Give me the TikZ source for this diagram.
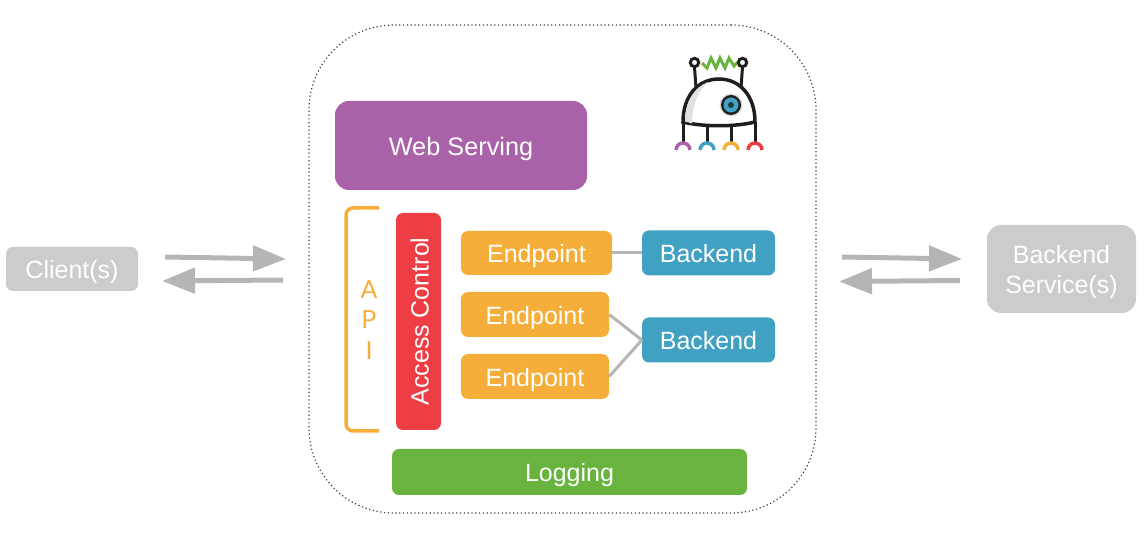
\documentclass[tikz,border=0pt]{standalone}
\usepackage{fontspec}
\setmainfont{Liberation Sans}
\newfontfamily\apifont{Lato}
\usetikzlibrary{arrows.meta, positioning}
\definecolor{webpurple}{HTML}{A961A8}
\definecolor{accessred}{HTML}{EE3E45}
\definecolor{endpointorange}{HTML}{F6AE3A}
\definecolor{backendblue}{HTML}{40A1C2}
\definecolor{loggreen}{HTML}{68B43F}
\definecolor{outsidegray}{HTML}{CCCCCC}
\definecolor{arrowgray}{HTML}{B5B5B5}
\definecolor{logodark}{HTML}{1E1E1E}
\tikzstyle{box} = [draw=none, rounded corners=7pt, text=white, inner sep=0pt, text height=22pt, text depth=2pt, font=\fontsize{25}{30}\selectfont]
\tikzstyle{endpoint} = [box, fill=endpointorange, minimum width=148pt, minimum height=45pt]
\tikzstyle{backend} = [box, fill=backendblue, minimum width=133pt, minimum height=45pt]
\tikzstyle{outside} = [box, fill=outsidegray]
\tikzstyle{flow} = [line width=5pt, draw=arrowgray, -{Triangle[length=33pt,width=25pt]}]
\tikzstyle{link} = [line width=3pt, draw=arrowgray]
\tikzstyle{apiletter} = [text=endpointorange, inner sep=0pt, font=\apifont\fontsize{25}{30}\selectfont]
\begin{document}
\begin{tikzpicture}[x=1pt, y=1pt, node distance=62pt]
\useasboundingbox (0,0) rectangle (1144,-534);

% Boundary
\node (boundary) [draw=black!75, dash pattern=on 1.2pt off 2.6pt, line width=1.2pt, rounded corners=85pt, minimum width=507pt, minimum height=488pt, inner sep=0pt] at (562.5,-269) {};

% Blocks
\node (web) [box, fill=webpurple, rounded corners=14pt, minimum width=252pt, minimum height=89pt, font=\fontsize{25.3}{30}\selectfont] at (461,-145.5) {Web Serving};
\node (access) [box, fill=accessred, rotate=90, minimum width=217pt, minimum height=45pt] at (418.5,-321.5) {Access Control};
\node (endpointa) [endpoint, minimum width=151pt, minimum height=44pt] at (536.5,-253) {Endpoint};
\node (endpointb) [endpoint, below of=endpointa, xshift=-1.5pt, yshift=0.5pt] {Endpoint};
\node (endpointc) [endpoint, below of=endpointb] {Endpoint};
\node (backenda) [backend, right of=endpointa, xshift=110pt] {Backend};
\node (backendb) [backend, below of=backenda, yshift=-25pt] {Backend};
\node (logging) [box, fill=loggreen, minimum width=355pt, minimum height=46pt] at (569.5,-472) {Logging};

% Outside
\node (client) [outside, minimum width=132pt, minimum height=44pt] at (72,-269) {Client(s)};
\node (service) [outside, rounded corners=14pt, align=center, text height=, text depth=, minimum width=149pt, minimum height=88pt] at (1061.5,-269) {\rule{0pt}{24pt}Backend\\Service(s)};

% API bracket
\coordinate (brackettop) at (379,-208);
\coordinate (bracketbottom) at (379,-431);
\draw [draw=endpointorange, line width=3.5pt, rounded corners=7pt] (brackettop) -- (346,-208) -- (346,-431) -- (bracketbottom);
\node (apia) [apiletter] at (369,-290) {A};
\node (apip) [apiletter] at (369,-320) {P};
\node (apii) [apiletter] at (369,-351) {I};

% Links
\draw [link] (endpointa) -- (backenda);
\draw [link] (endpointb.east) -- (backendb.west);
\draw [link] (endpointc.east) -- (backendb.west);

% Flows
\coordinate (clientouta) at (165,-257);
\coordinate (clientina) at (286,-259);
\coordinate (clientoutb) at (283,-280);
\coordinate (clientinb) at (162,-281);
\coordinate (serviceouta) at (842,-257);
\coordinate (serviceina) at (962,-259);
\coordinate (serviceoutb) at (960,-280.5);
\coordinate (serviceinb) at (839,-281.5);
\draw [flow] (clientouta) -- (clientina);
\draw [flow] (clientoutb) -- (clientinb);
\draw [flow] (serviceouta) -- (serviceina);
\draw [flow] (serviceoutb) -- (serviceinb);

% Logo
\draw [loggreen, line width=3pt] (702,-63) -- (707,-68) -- (711,-58) -- (716,-68) -- (720,-58) -- (725,-68) -- (729,-58) -- (734,-66) -- (738,-62);
\draw [logodark, line width=3pt] (694.5,-67) -- (696,-88);
\draw [logodark, line width=3pt] (742.5,-67) -- (741,-88);
\draw [logodark, line width=3pt, fill=white] (694.5,-62.5) circle (4.2pt);
\draw [logodark, line width=3pt, fill=white] (742.5,-62.5) circle (4.2pt);
\foreach \legx/\legcolor in {683/webpurple, 707/backendblue, 731/endpointorange, 755/accessred} {
  \draw [logodark, line width=3pt] (\legx,-122) -- (\legx,-143);
  \draw [\legcolor, line width=3.5pt] (\legx-7,-150) arc (180:0:7pt);
}
\draw [logodark, line width=3.5pt, fill=white] (683,-122) .. controls (683,-96) and (698,-79) .. (719,-79) .. controls (740,-79) and (755,-96) .. (755,-122) .. controls (735,-127) and (703,-127) .. (683,-122) -- cycle;
\fill [black!12] (685,-121.5) .. controls (685.5,-100) and (695,-87) .. (708,-82) .. controls (698,-91) and (692,-105) .. (692,-123.5) -- cycle;
\fill [white!85!black] (731,-105) circle (11.5pt);
\fill [logodark] (731,-105) circle (10pt);
\fill [backendblue] (731,-105) circle (7.5pt);
\fill [logodark!80!backendblue] (731,-105) circle (3pt);

\end{tikzpicture}
\end{document}
